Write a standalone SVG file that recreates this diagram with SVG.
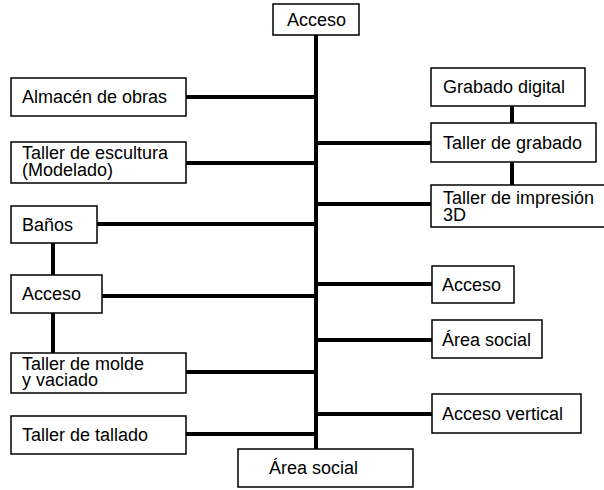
<svg xmlns="http://www.w3.org/2000/svg" width="604" height="490" viewBox="0 0 604 490">
<style>
.b{fill:#fff;stroke:#000;stroke-width:1.5}
.t{font-family:"Liberation Sans",Arial,sans-serif;font-size:18px;fill:#000}
.c{stroke:#000;stroke-width:4;fill:none}
</style>
<rect width="604" height="490" fill="#fff"/>
<g id="connectors">
<line class="c" x1="316" y1="35" x2="316" y2="449"/>
<line class="c" x1="186" y1="97" x2="316" y2="97"/>
<line class="c" x1="186" y1="163" x2="316" y2="163"/>
<line class="c" x1="97" y1="224" x2="316" y2="224"/>
<line class="c" x1="102" y1="296" x2="316" y2="296"/>
<line class="c" x1="186" y1="372" x2="316" y2="372"/>
<line class="c" x1="186" y1="434" x2="316" y2="434"/>
<line class="c" x1="53" y1="243" x2="53" y2="275"/>
<line class="c" x1="53" y1="313" x2="53" y2="353"/>
<line class="c" x1="316" y1="143" x2="431" y2="143"/>
<line class="c" x1="316" y1="204" x2="431" y2="204"/>
<line class="c" x1="316" y1="284" x2="432" y2="284"/>
<line class="c" x1="316" y1="340" x2="432" y2="340"/>
<line class="c" x1="316" y1="414" x2="432" y2="414"/>
<line class="c" x1="512" y1="106" x2="512" y2="123"/>
<line class="c" x1="512" y1="162" x2="512" y2="185"/>
</g>
<g id="acceso-top"><rect class="b" x="273" y="4" width="86" height="31"/><text class="t" x="287" y="26">Acceso</text></g>
<g id="almacen"><rect class="b" x="11" y="78" width="175" height="38"/><text class="t" x="22" y="103">Almacén de obras</text></g>
<g id="escultura"><rect class="b" x="11" y="142" width="175" height="41"/><text class="t" x="22" y="159">Taller de escultura</text><text class="t" x="22" y="176">(Modelado)</text></g>
<g id="banos"><rect class="b" x="11" y="206" width="86" height="37"/><text class="t" x="22" y="231">Baños</text></g>
<g id="acceso-left"><rect class="b" x="11" y="275" width="91" height="38"/><text class="t" x="22" y="300">Acceso</text></g>
<g id="molde"><rect class="b" x="11" y="353" width="175" height="40"/><text class="t" x="22" y="370">Taller de molde</text><text class="t" x="22" y="386">y vaciado</text></g>
<g id="tallado"><rect class="b" x="11" y="416" width="175" height="38"/><text class="t" x="22" y="441">Taller de tallado</text></g>
<g id="area-social-bottom"><rect class="b" x="238" y="449" width="175" height="38"/><text class="t" x="269" y="474">Área social</text></g>
<g id="grabado-digital"><rect class="b" x="431" y="68" width="154" height="38"/><text class="t" x="443" y="93">Grabado digital</text></g>
<g id="taller-grabado"><rect class="b" x="431" y="123" width="165" height="39"/><text class="t" x="443" y="149">Taller de grabado</text></g>
<g id="impresion"><rect class="b" x="431" y="185" width="176" height="42"/><text class="t" x="443" y="204">Taller de impresión</text><text class="t" x="443" y="221">3D</text></g>
<g id="acceso-right"><rect class="b" x="432" y="266" width="82" height="37"/><text class="t" x="442" y="291">Acceso</text></g>
<g id="area-social-right"><rect class="b" x="432" y="320" width="110" height="38"/><text class="t" x="442" y="346">Área social</text></g>
<g id="acceso-vertical"><rect class="b" x="432" y="394" width="149" height="39"/><text class="t" x="442" y="420">Acceso vertical</text></g>
</svg>
